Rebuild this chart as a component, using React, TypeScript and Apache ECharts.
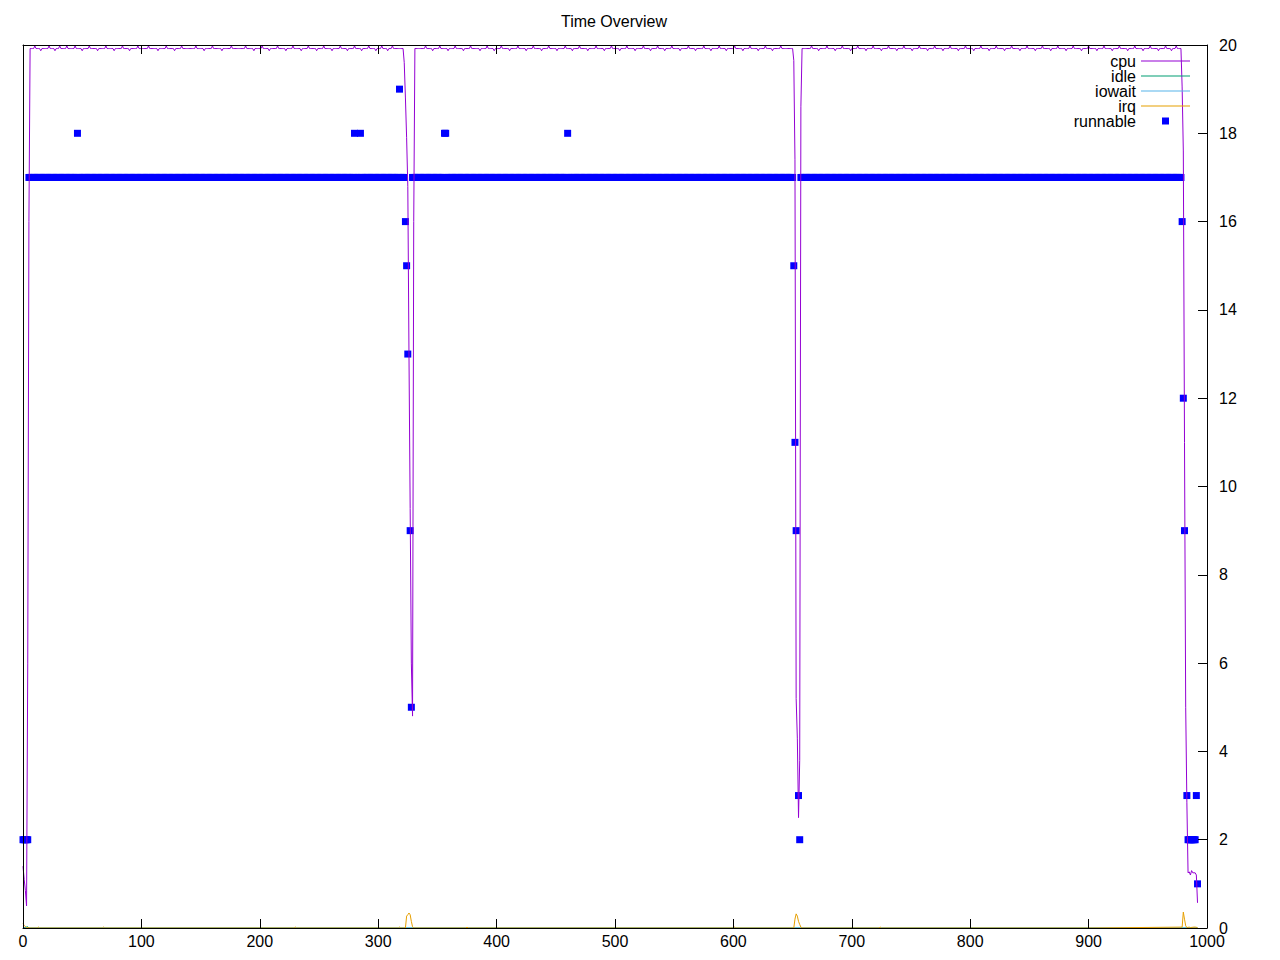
import { useEffect, useRef } from "react";
import * as echarts from "echarts";

// ---------- data ----------
const seriesNames = ["cpu", "idle", "iowait", "irq", "runnable"];

// cpu: flat top sections (one sample per time unit) with small noise
const cpuBase = 19.92;
const cpuUp = 19.98;
const cpuDown = 19.87;
const cpuFlatRanges: [number, number][] = [
  [6, 321],
  [331, 650],
  [658, 978],
];
const cpuSpikesUp = [
  10, 22, 31, 37, 44, 56, 70, 84, 97, 106, 121, 134, 146, 160, 176, 188, 202, 215, 228, 241, 254, 268, 280, 292,
  303, 312, 340, 352, 365, 378, 392, 404, 418, 431, 444, 458, 470, 484, 497, 510, 524, 536, 548, 562, 575, 588,
  601, 614, 627, 640, 666, 679, 692, 705, 718, 731, 744, 757, 770, 783, 796, 809, 822, 835, 848, 861, 874, 887,
  900, 913, 926, 939, 952, 965, 974,
];
const cpuSpikesDown = [
  15, 27, 50, 63, 77, 90, 114, 128, 153, 168, 195, 208, 222, 235, 248, 261, 274, 286, 298, 308, 346, 359, 372,
  386, 398, 411, 425, 438, 451, 464, 477, 491, 504, 517, 530, 542, 555, 568, 581, 594, 608, 621, 633, 672, 686,
  699, 712, 725, 738, 751, 764, 777, 790, 803, 816, 829, 842, 855, 868, 881, 894, 907, 920, 933, 946, 959, 970,
];
const cpuDips: [number, number][] = [
  [0, 1.4], [1, 1.1], [2, 0.85], [3, 0.5], [4, 6], [5, 16],
  [322, 19.6], [323, 18.8], [324, 17.9], [325, 16.8], [326, 13], [327, 9.5], [328, 6], [329, 4.8], [330, 16],
  [651, 19.65], [652, 17.4], [653, 5.2], [654, 4.3], [655, 2.5], [656, 3.8], [657, 18.6],
  [979, 19.05], [980, 17.6], [981, 11], [982, 5], [983, 2.85], [984, 1.25], [985, 1.27], [986, 1.2],
  [987, 1.3], [988, 1.25], [989, 1.25], [990, 1.25], [991, 1.2], [992, 0.57],
];

// idle and iowait stay at zero
const idleData: [number, number][] = [[0, 0], [4, 0.03], [5, 0], [992, 0]];
const iowaitData: [number, number][] = [[0, 0], [992, 0]];

// irq: near zero with small bumps at the dips
const irqData: [number, number][] = [
  [0, 0.1], [1, 0.06], [2, 0.03], [3, 0.01], [6, 0], [12, 0], [13, 0.02], [14, 0],
  [67, 0], [68, 0.02], [69, 0], [229, 0], [230, 0.02], [231, 0],
  [317, 0], [318, 0.02], [319, 0], [323, 0], [324, 0.27], [325, 0.3], [326, 0.34], [327, 0.3], [328, 0.15],
  [329, 0.03], [330, 0], [374, 0], [375, 0.02], [376, 0], [600, 0], [601, 0.02], [602, 0],
  [651, 0], [652, 0.2], [653, 0.32], [654, 0.27], [655, 0.15], [656, 0.08], [657, 0.02], [658, 0],
  [723, 0], [724, 0.02], [725, 0], [899, 0], [900, 0.02], [901, 0],
  [979, 0.02], [980, 0.36], [981, 0.2], [982, 0.05], [983, 0.01], [985, 0.02], [986, 0.01], [989, 0.02],
  [990, 0.02], [992, 0.01],
];

// runnable: level 17 over most of the run, with individual readings elsewhere
const runnableLevel = 17;
const runnableRange: [number, number] = [5, 978];
const runnableGaps: [number, number][] = [[323, 328], [651, 656]];
const runnableOther: [number, number][] = [
  [0, 2], [1, 2], [2, 2], [3, 2], [4, 2],
  [46, 18], [280, 18], [285, 18], [318, 19], [356, 18], [357, 18], [460, 18],
  [323, 16], [324, 15], [325, 13], [327, 9], [328, 5],
  [651, 15], [652, 11], [653, 9], [655, 3], [656, 2],
  [979, 16], [980, 12], [981, 9], [983, 3], [984, 2], [985, 2], [986, 2], [987, 2], [988, 2], [989, 2],
  [990, 2], [991, 3], [992, 1],
];

const xTickStep = 100;
const yTickStep = 2;

// ---------- build series data ----------
function buildCpu(): [number, number][] {
  const up = new Set(cpuSpikesUp);
  const down = new Set(cpuSpikesDown);
  const pts: [number, number][] = [];
  for (const [a, b] of cpuFlatRanges) {
    for (let x = a; x <= b; x++) {
      pts.push([x, up.has(x) ? cpuUp : down.has(x) ? cpuDown : cpuBase]);
    }
  }
  for (const p of cpuDips) pts.push(p);
  pts.sort((p, q) => p[0] - q[0]);
  return pts;
}

function buildRunnable(): [number, number][] {
  const other = new Map<number, number>();
  for (const [x, v] of runnableOther) other.set(x, v);
  const pts: [number, number][] = [];
  for (let x = runnableRange[0]; x <= runnableRange[1]; x++) {
    if (other.has(x)) continue;
    if (runnableGaps.some(([a, b]) => x >= a && x <= b)) continue;
    pts.push([x, runnableLevel]);
  }
  for (const p of runnableOther) pts.push(p);
  return pts;
}

const FONT = "'Liberation Sans', Arial, sans-serif";
const LINE_ICON = "path://M0,0L49,0L49,1L0,1Z";
const SQUARE_ICON = "path://M0,0M2,2M0.5,0.5L1.5,0.5L1.5,1.5L0.5,1.5Z";

export default function App() {
  const ref = useRef<HTMLDivElement>(null);
  useEffect(() => {
    if (!ref.current) return;
    const chart = echarts.init(ref.current, undefined, { renderer: "svg" });
    const axisLine = { show: true, onZero: false, lineStyle: { color: "#000", width: 1 } };
    chart.setOption({
      animation: false,
      backgroundColor: "#fff",
      textStyle: { fontFamily: FONT },
      title: {
        text: "Time Overview",
        left: 609,
        textAlign: "center",
        top: 8,
        textStyle: { fontSize: 16, fontWeight: "normal", color: "#000", fontFamily: FONT },
      },
      legend: {
        orient: "vertical",
        right: 90,
        top: 53,
        padding: 0,
        itemGap: -1,
        itemWidth: 49,
        itemHeight: 14,
        align: "right",
        selectedMode: false,
        textStyle: { fontSize: 16, color: "#000", lineHeight: 14, fontFamily: FONT },
        data: [
          { name: "cpu", icon: LINE_ICON },
          { name: "idle", icon: LINE_ICON },
          { name: "iowait", icon: LINE_ICON },
          { name: "irq", icon: LINE_ICON },
          { name: "runnable", icon: SQUARE_ICON },
        ],
      },
      grid: { left: 23, right: 73, top: 45, bottom: 32, containLabel: false },
      xAxis: [
        {
          type: "value",
          min: 0,
          max: 1000,
          interval: xTickStep,
          position: "bottom",
          z: 10,
          axisLine,
          axisTick: { show: true, inside: true, length: 9, lineStyle: { color: "#000" } },
          axisLabel: {
            show: true,
            margin: 5,
            fontSize: 16,
            color: "#000",
            fontFamily: FONT,
            formatter: (v: number) => String(v),
          },
          splitLine: { show: false },
        },
        {
          type: "value",
          min: 0,
          max: 1000,
          interval: xTickStep,
          position: "top",
          z: 10,
          axisLine,
          axisTick: { show: true, inside: true, length: 9, lineStyle: { color: "#000" } },
          axisLabel: { show: false },
          splitLine: { show: false },
        },
      ],
      yAxis: [
        {
          type: "value",
          min: 0,
          max: 20,
          interval: yTickStep,
          position: "right",
          z: 10,
          axisLine,
          axisTick: { show: true, inside: true, length: 9, lineStyle: { color: "#000" } },
          axisLabel: { show: true, margin: 12, fontSize: 16, color: "#000", fontFamily: FONT },
          splitLine: { show: false },
        },
        {
          type: "value",
          min: 0,
          max: 20,
          interval: yTickStep,
          position: "left",
          z: 10,
          axisLine,
          axisTick: { show: false },
          axisLabel: { show: false },
          splitLine: { show: false },
        },
      ],
      series: [
        {
          name: seriesNames[0],
          type: "line",
          data: buildCpu(),
          symbol: "none",
          silent: true,
          color: "#9400d3",
          lineStyle: { color: "#9400d3", width: 1 },
        },
        {
          name: seriesNames[1],
          type: "line",
          data: idleData,
          symbol: "none",
          silent: true,
          color: "#009e73",
          lineStyle: { color: "#009e73", width: 1 },
        },
        {
          name: seriesNames[2],
          type: "line",
          data: iowaitData,
          symbol: "none",
          silent: true,
          color: "#56b4e9",
          lineStyle: { color: "#56b4e9", width: 1 },
        },
        {
          name: seriesNames[3],
          type: "line",
          data: irqData,
          symbol: "none",
          silent: true,
          color: "#e69f00",
          lineStyle: { color: "#e69f00", width: 1 },
        },
        {
          name: seriesNames[4],
          type: "scatter",
          data: buildRunnable(),
          symbol: "rect",
          symbolSize: 7,
          silent: true,
          color: "#0000ff",
          itemStyle: { color: "#0000ff", opacity: 1 },
        },
      ],
    });
    return () => chart.dispose();
  }, []);
  return (
    <div
      ref={ref}
      style={{ position: "fixed", left: 0, top: 0, width: 1280, height: 960, background: "#fff" }}
    />
  );
}
